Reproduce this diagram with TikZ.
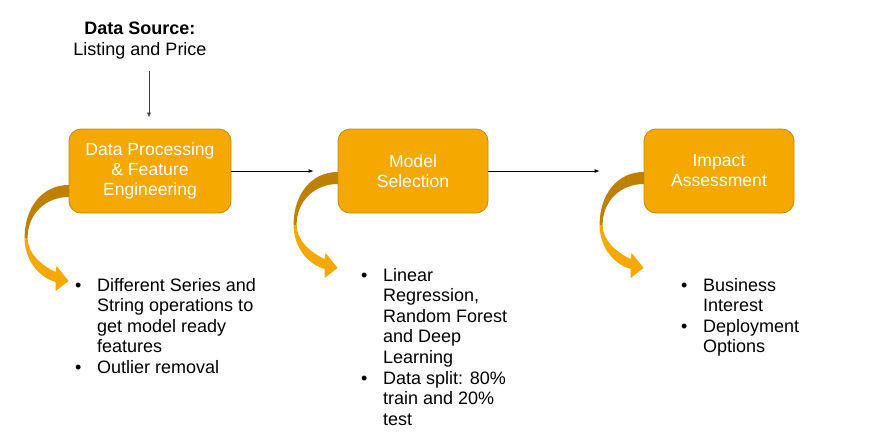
\documentclass[tikz,border=0pt]{standalone}
\usepackage{fontspec}
\setmainfont{Liberation Sans}
\usetikzlibrary{arrows.meta,calc,backgrounds}

\definecolor{stagefill}{RGB}{245,168,0}
\definecolor{stageline}{RGB}{196,138,8}
\definecolor{bandshade}{RGB}{190,128,0}
\definecolor{srcline}{RGB}{64,64,64}

\tikzset{
  stage/.style={draw=stageline, fill=stagefill, line width=0.8pt, rounded corners=12pt,
    minimum height=84pt, inner sep=0pt, align=center, text=white,
    font=\fontsize{17.6}{20}\selectfont},
  flow/.style={-{Latex[length=5pt,width=4pt]}, line width=0.8pt},
  bullets/.style={anchor=base west, inner sep=0pt, font=\fontsize{18}{20.6}\selectfont},
}

% curved band arrow, origin = top of the band at the left side of a stage
\newcommand\bendarrow[1]{%
  \begin{scope}[shift={(#1)}]
    \fill[bandshade] (3,0) -- (0,0) .. controls (-26,0) and (-44,22) .. (-44,53)
      -- (-41,53) .. controls (-41,28) and (-22,12) .. (0,12) -- (3,12) -- cycle;
    \fill[stagefill] (-44,53) .. controls (-44,75) and (-30,92) .. (-13,97)
      -- (-13,106) -- (0,96) -- (-12,81) -- (-13,87)
      .. controls (-28,80) and (-41,68) .. (-41,53) -- cycle;
  \end{scope}}

\begin{document}
\begin{tikzpicture}[x=1pt,y=-1pt]
    \useasboundingbox (0,0) rectangle (879,437);

    \node[inner sep=0pt, align=center, font=\fontsize{18}{21}\selectfont] (src) at (140,41)
        {\textbf{Data Source:}\\Listing and Price};

    \node[stage, minimum width=162pt] (dp) at (150,171) {Data Processing\\\& Feature\\Engineering};
    \node[stage, minimum width=150pt] (ms) at (413,171) {Model\\Selection};
    \node[stage, minimum width=150pt] (ia) at (719,171) {Impact\\Assessment};

    \begin{scope}[on background layer]
        \fill[white] (0,0) rectangle (879,437);
        \bendarrow{$(dp.west)+(0,14)$}
        \bendarrow{$(ms.west)+(0,1)$}
        \bendarrow{$(ia.west)+(0,1)$}
    \end{scope}

    % connectors
    \coordinate (srcend) at ($(dp.north)+(-1,-11)$);
    \draw[flow, srcline, line width=0.7pt] ($(src.south)+(9,11)$) -- (srcend);
    \coordinate (msin) at ($(ms.west)+(-24,0)$);
    \draw[flow] (dp.east) -- (msin);
    \coordinate (iain) at ($(ia.west)+(-44,0)$);
    \draw[flow] (ms.east) -- (iain);

    % bullet lists
    \node[bullets] (dplist) at (75,291) {\begin{tabular}[t]{@{}p{22pt}@{}l@{}}
        \textbullet & Different Series and\\
                    & String operations to\\
                    & get model ready\\
                    & features\\
        \textbullet & Outlier removal
    \end{tabular}};
    \node[bullets] (mslist) at (361,281) {\begin{tabular}[t]{@{}p{22pt}@{}l@{}}
        \textbullet & Linear\\
                    & Regression,\\
                    & Random Forest\\
                    & and Deep\\
                    & Learning\\
        \textbullet & Data split: 80\%\\
                    & train and 20\%\\
                    & test
    \end{tabular}};
    \node[bullets] (ialist) at (681,291) {\begin{tabular}[t]{@{}p{22pt}@{}l@{}}
        \textbullet & Business\\
                    & Interest\\
        \textbullet & Deployment\\
                    & Options
    \end{tabular}};
\end{tikzpicture}
\end{document}
